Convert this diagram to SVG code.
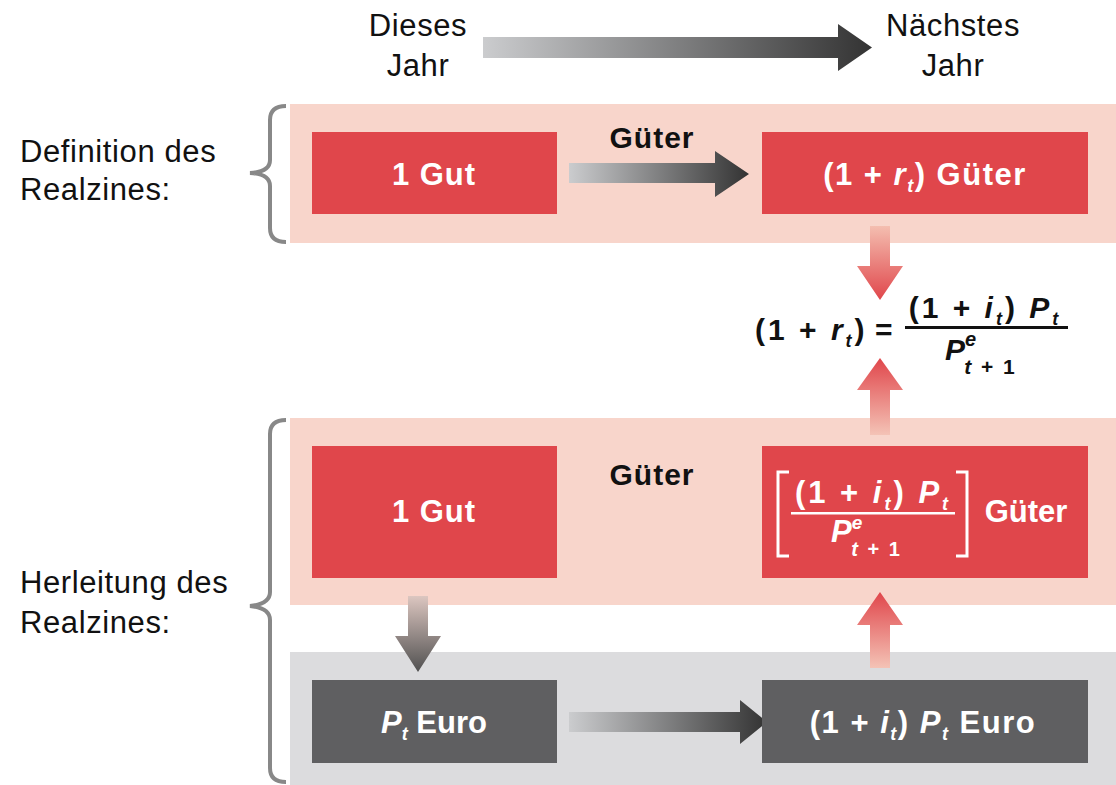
<svg xmlns="http://www.w3.org/2000/svg" width="1116" height="785" viewBox="0 0 1116 785">
<defs>
<linearGradient id="gh" x1="0" y1="0" x2="1" y2="0"><stop offset="0" stop-color="#cbccce"/><stop offset="1" stop-color="#333333"/></linearGradient>
<linearGradient id="pd" x1="0" y1="0" x2="0" y2="1"><stop offset="0" stop-color="#f4beb0"/><stop offset="1" stop-color="#e0464b"/></linearGradient>
<linearGradient id="pu" x1="0" y1="1" x2="0" y2="0"><stop offset="0" stop-color="#f4c3b6"/><stop offset="1" stop-color="#e0464b"/></linearGradient>
<linearGradient id="gd" x1="0" y1="0" x2="0" y2="1"><stop offset="0" stop-color="#dcc6c0"/><stop offset="1" stop-color="#505050"/></linearGradient>
</defs>
<style>
.lbl{font-family:"Liberation Sans",Arial,sans-serif;font-size:31px;fill:#111;letter-spacing:0.6px}
.bt{font-family:"Liberation Sans",Arial,sans-serif;font-size:31px;font-weight:bold;fill:#fff}
.bk{font-family:"Liberation Sans",Arial,sans-serif;font-size:30px;font-weight:bold;fill:#111}
.it{font-style:italic}
.br{fill:none;stroke:#888;stroke-width:4}
.pink{fill:#f8d5cb}
.gray{fill:#dcdcde}
.red{fill:#e0464b}
.dark{fill:#5f5f61}
</style>
<g id="bands">
<rect class="pink" x="290" y="104" width="826" height="139"/>
<rect class="pink" x="290" y="418" width="826" height="187"/>
<rect class="gray" x="290" y="652" width="826" height="133"/>
</g>
<g id="header">
<text class="lbl" x="418" y="36" text-anchor="middle">Dieses</text>
<text class="lbl" x="418" y="76" text-anchor="middle">Jahr</text>
<text class="lbl" x="953" y="36" text-anchor="middle">Nächstes</text>
<text class="lbl" x="953" y="76" text-anchor="middle">Jahr</text>
</g>
<g id="sidelabels">
<text class="lbl" x="20" y="162">Definition des</text>
<text class="lbl" x="20" y="200">Realzines:</text>
<text class="lbl" x="20" y="593">Herleitung des</text>
<text class="lbl" x="20" y="633">Realzines:</text>
<path class="br" d="M286,106 Q270,106 270,120 L270,160 Q270,172 250,173 Q270,174 270,186 L270,228 Q270,242 286,242"/>
<path class="br" d="M286,420 Q270,420 270,434 L270,592 Q270,604 250,606 Q270,608 270,620 L270,768 Q270,782 286,782"/>
</g>
<g id="connectors">
<polygon fill="url(#gh)" points="483,37 838,37 838,24 872,47.5 838,71 838,58 483,58"/>
<polygon fill="url(#gh)" points="569,163 715,163 715,151 749,174 715,197 715,183 569,183"/>
<polygon fill="url(#gh)" points="569,712 740,712 740,700 767,722 740,744 740,732 569,732"/>
<polygon fill="url(#pd)" points="870,226 890,226 890,266 903,266 880,300 857,266 870,266"/>
<polygon fill="url(#pu)" points="870,435 890,435 890,390 903,390 880,358 857,390 870,390"/>
<polygon fill="url(#pu)" points="870,668 890,668 890,625 903,625 880,592 857,625 870,625"/>
<polygon fill="url(#gd)" points="408,596 428,596 428,636 441,636 418,672 395,636 408,636"/>
</g>
<g id="n1">
<rect class="red" x="312" y="132" width="245" height="82"/>
<text class="bt" x="434" y="185" text-anchor="middle" letter-spacing="1">1 Gut</text>
</g>
<g id="lbl-gueter1"><text class="bk" x="652" y="148" text-anchor="middle" letter-spacing="1">Güter</text></g>
<g id="n2">
<rect class="red" x="762" y="132" width="326" height="82"/>
<text class="bt" x="925" y="185" text-anchor="middle" letter-spacing="1.5">(1 + <tspan class="it">r</tspan><tspan font-size="18" dy="7" class="it">t</tspan><tspan dy="-7">) Güter</tspan></text>
</g>
<g id="formula">
<text class="bk" x="755" y="340" letter-spacing="3">(1 + <tspan class="it">r</tspan><tspan font-size="18" dy="7" class="it">t</tspan><tspan dy="-7">)</tspan></text>
<text class="bk" x="875" y="340">=</text>
<text class="bk" x="985" y="318" text-anchor="middle" letter-spacing="3">(1 + <tspan class="it">i</tspan><tspan font-size="18" dy="7" class="it">t</tspan><tspan dy="-7">) </tspan><tspan class="it">P</tspan><tspan font-size="18" dy="7" class="it">t</tspan></text>
<rect x="905" y="326" width="163" height="3" fill="#111"/>
<text class="bk" x="945" y="360"><tspan class="it">P</tspan><tspan font-size="20" dy="-14" class="it">e</tspan><tspan font-size="21" dx="-12" dy="28" letter-spacing="2"><tspan class="it">t</tspan> + 1</tspan></text>
</g>
<g id="n3">
<rect class="red" x="312" y="446" width="245" height="132"/>
<text class="bt" x="434" y="522" text-anchor="middle" letter-spacing="1">1 Gut</text>
</g>
<g id="lbl-gueter2"><text class="bk" x="652" y="485" text-anchor="middle" letter-spacing="1">Güter</text></g>
<g id="n4">
<rect class="red" x="762" y="446" width="326" height="132"/>
<path d="M789,472 L778,472 L778,556 L789,556" fill="none" stroke="#fff" stroke-width="3"/>
<path d="M956,472 L967,472 L967,556 L956,556" fill="none" stroke="#fff" stroke-width="3"/>
<text class="bt" x="873" y="503" text-anchor="middle" font-size="29" letter-spacing="3">(1 + <tspan class="it">i</tspan><tspan font-size="18" dy="7" class="it">t</tspan><tspan dy="-7">) </tspan><tspan class="it">P</tspan><tspan font-size="18" dy="7" class="it">t</tspan></text>
<rect x="791" y="512" width="164" height="2.5" fill="#fff"/>
<text class="bt" x="831" y="542" font-size="29"><tspan class="it">P</tspan><tspan font-size="19" dy="-13" class="it">e</tspan><tspan font-size="20" dx="-11" dy="27" letter-spacing="2"><tspan class="it">t</tspan> + 1</tspan></text>
<text class="bt" x="1026" y="522" text-anchor="middle">Güter</text>
</g>
<g id="n5">
<rect class="dark" x="312" y="680" width="245" height="83"/>
<text class="bt" x="434" y="733" text-anchor="middle"><tspan class="it">P</tspan><tspan font-size="18" dy="7" class="it">t</tspan><tspan dy="-7"> Euro</tspan></text>
</g>
<g id="n6">
<rect class="dark" x="762" y="680" width="326" height="83"/>
<text class="bt" x="923" y="733" text-anchor="middle" letter-spacing="1.5">(1 + <tspan class="it">i</tspan><tspan font-size="18" dy="7" class="it">t</tspan><tspan dy="-7">)  </tspan><tspan class="it">P</tspan><tspan font-size="18" dy="7" class="it">t</tspan><tspan dy="-7"> Euro</tspan></text>
</g>
</svg>
